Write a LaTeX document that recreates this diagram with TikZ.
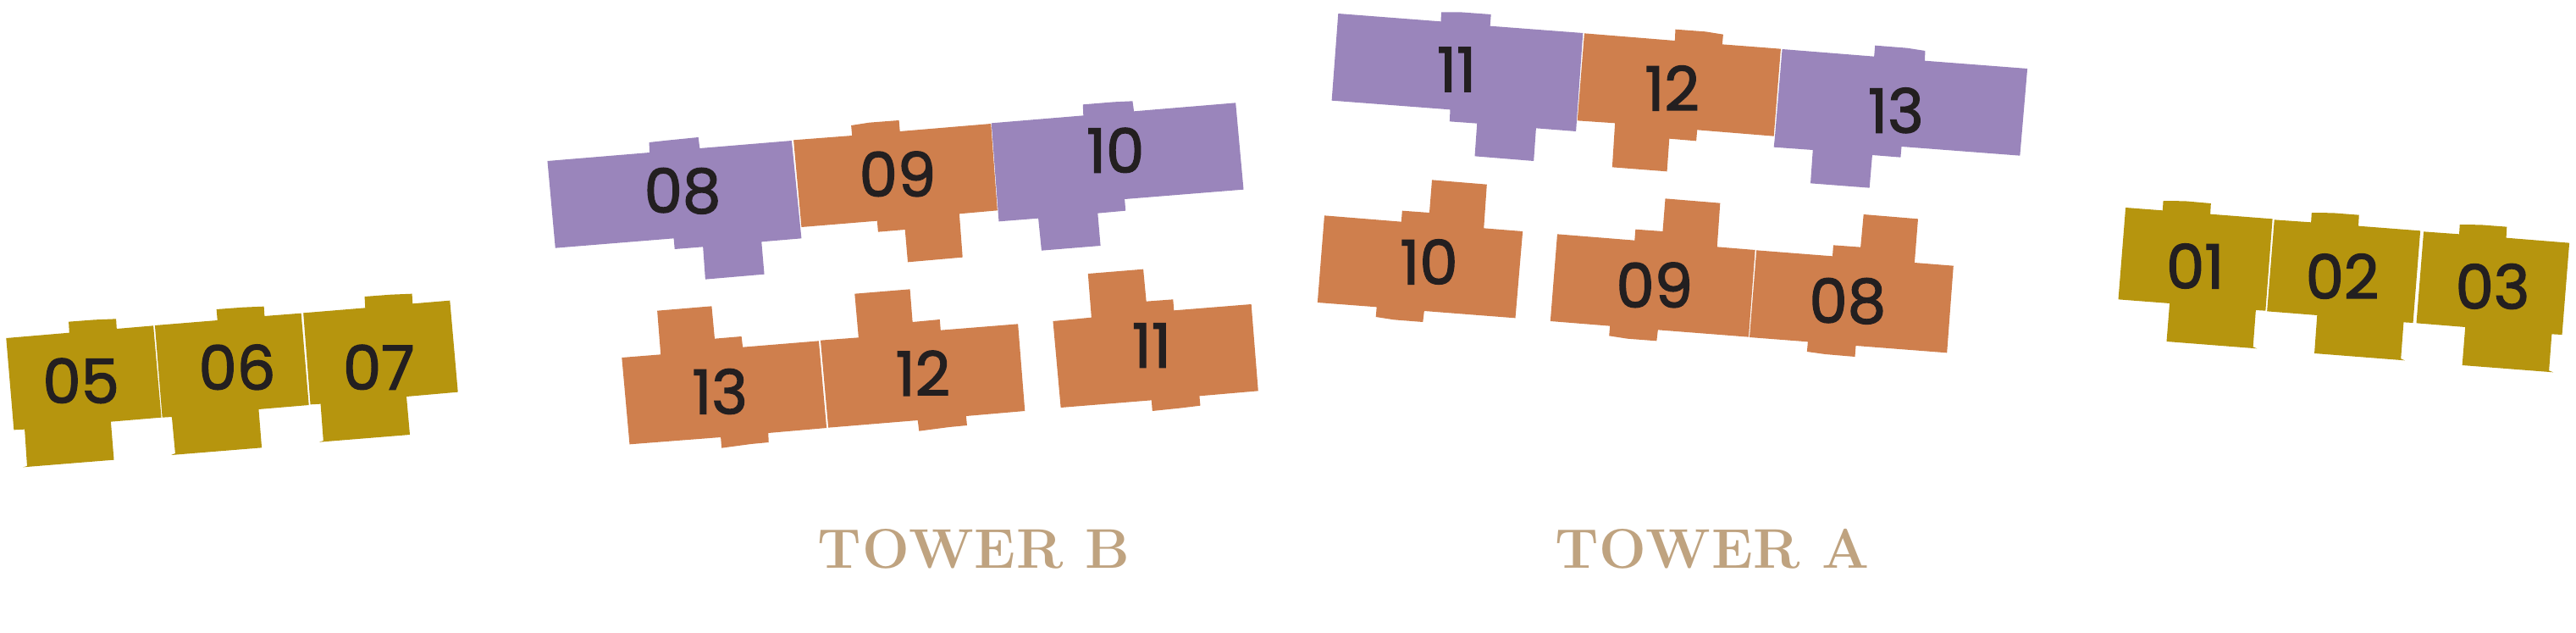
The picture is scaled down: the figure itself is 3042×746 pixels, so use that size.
\documentclass[tikz,border=0pt]{standalone}
\usepackage{fontspec}
\setmainfont{Poppins}
\newfontfamily\numfont{Poppins}[FakeBold=2]
\newfontfamily\towerfont{Latin Modern Roman}[LetterSpace=1.5]
\definecolor{olive}{HTML}{B6950E}
\definecolor{orng}{HTML}{CF7F4D}
\definecolor{purp}{HTML}{9A85BB}
\definecolor{ink}{HTML}{231F20}
\definecolor{tan}{HTML}{BFA380}
\tikzset{
  unit/.style={fill=#1,draw=none},
  num/.style={text=ink,inner sep=0pt,font=\numfont\fontsize{36}{36}\selectfont},
  tower/.style={text=tan,inner sep=0pt,font=\towerfont\bfseries\fontsize{33}{33}\selectfont}
}
\begin{document}
\begin{tikzpicture}[x=0.5pt,y=-0.5pt]
\useasboundingbox (0,0) rectangle (3042,746);
% left wing
\begin{scope}[shift={(0,330)},x=0.5pt/2.75,y=-0.5pt/3]
\fill[unit=olive] (20,207)--(225,188)--(223,149)--(308,142)--(377,139)--(379,174)--(498,163)--(524,488)--(360,503)--(370,638)--(75,664)--(88,660)--(80,530)--(45,532)--cycle;
\fill[unit=olive] (503,162)--(706,144)--(703,105)--(790,98)--(857,95)--(859,129)--(978,119)--(1003,444)--(840,459)--(850,595)--(556,621)--(569,615)--(558,486)--(527,488)--cycle;
\fill[unit=olive] (985,118)--(1186,100)--(1184,60)--(1270,53)--(1338,50)--(1340,85)--(1461,74)--(1487,398)--(1320,414)--(1331,549)--(1037,575)--(1050,570)--(1041,440)--(1008,442)--cycle;
\node[num] (l05) at (263,358) {05};
\node[num] (l06) at (770,310) {06};
\node[num] (l07) at (1230,310) {07};
\end{scope}
% tower B upper
\begin{scope}[shift={(630,100)},x=0.5pt/1.823,y=-0.5pt/3]
\fill[unit=purp] (30,270)--(250,240)--(249,204)--(288,197)--(355,186)--(358,225)--(556,198)--(577,544)--(491,556)--(497,671)--(370,689)--(365,574)--(304,582)--(302,544)--(47,578)--cycle;
\fill[unit=orng] (560,196)--(686,180)--(684,144)--(723,134)--(787,126)--(789,165)--(985,138)--(999,445)--(917,457)--(924,611)--(806,628)--(800,513)--(742,521)--(740,482)--(577,504)--cycle;
\fill[unit=purp] (986,136)--(1184,109)--(1183,70)--(1250,61)--(1290,58)--(1293,94)--(1512,64)--(1529,371)--(1273,405)--(1275,446)--(1215,455)--(1221,570)--(1094,587)--(1087,473)--(1002,484)--cycle;
\node[num] (b08) at (321,376) {08};
\node[num] (b09) at (784,316) {09};
\node[num] (b10) at (1253,232) {10};
\end{scope}
% tower B lower
\begin{scope}[shift={(720,320)},x=0.5pt/1.96,y=-0.5pt/3]
\fill[unit=orng] (28,306)--(118,295)--(110,140)--(236,124)--(243,239)--(305,231)--(308,269)--(484,247)--(502,555)--(367,573)--(368,606)--(327,612)--(259,626)--(257,588)--(46,613)--cycle;
\fill[unit=orng] (488,245)--(576,235)--(567,80)--(695,64)--(701,180)--(764,171)--(766,209)--(945,187)--(961,495)--(825,513)--(827,546)--(786,552)--(716,566)--(713,528)--(506,554)--cycle;
\fill[unit=orng] (1026,177)--(1115,164)--(1107,9)--(1235,-7)--(1242,107)--(1304,100)--(1306,139)--(1485,117)--(1501,424)--(1365,442)--(1367,476)--(1325,484)--(1256,495)--(1254,457)--(1044,483)--cycle;
\node[num] (b13) at (255,426) {13};
\node[num] (b12) at (725,361) {12};
\node[num] (b11) at (1254,263) {11};
\end{scope}
% tower A upper
\begin{scope}[shift={(1560,0)},x=0.5pt/1.823,y=-0.5pt/3]
\fill[unit=purp] (37,48)--(258,76)--(259,43)--(300,43)--(366,51)--(364,92)--(564,117)--(549,465)--(463,454)--(458,570)--(331,553)--(336,437)--(277,430)--(278,388)--(23,356)--cycle;
\fill[unit=orng] (567,118)--(762,144)--(763,104)--(828,112)--(866,122)--(864,157)--(990,173)--(975,482)--(810,460)--(808,499)--(750,491)--(745,607)--(627,592)--(633,436)--(552,427)--cycle;
\fill[unit=purp] (993,174)--(1191,200)--(1193,161)--(1262,170)--(1301,180)--(1300,215)--(1521,243)--(1505,551)--(1250,519)--(1248,557)--(1187,549)--(1181,665)--(1054,649)--(1059,531)--(975,521)--(977,490)--cycle;
\node[num] (a11) at (292,246) {11};
\node[num] (a12) at (756,312) {12};
\node[num] (a13) at (1238,391) {13};
\end{scope}
% tower A lower
\begin{scope}[shift={(1540,200)},x=0.5pt/1.96,y=-0.5pt/3]
\fill[unit=orng] (47,163)--(225,185)--(227,146)--(290,153)--(296,37)--(423,53)--(416,208)--(506,219)--(489,526)--(278,501)--(275,540)--(208,532)--(166,522)--(168,487)--(31,471)--cycle;
\fill[unit=orng] (586,229)--(765,251)--(767,212)--(830,219)--(836,103)--(963,119)--(956,274)--(1044,285)--(1029,593)--(819,568)--(816,607)--(748,599)--(706,589)--(708,554)--(570,537)--cycle;
\fill[unit=orng] (1047,286)--(1223,307)--(1225,268)--(1288,275)--(1295,159)--(1421,175)--(1413,330)--(1503,341)--(1488,649)--(1277,624)--(1275,663)--(1206,654)--(1164,645)--(1166,610)--(1031,594)--cycle;
\node[num] (a10) at (289,327) {10};
\node[num] (a09) at (811,409) {09};
\node[num] (a08) at (1258,466) {08};
\end{scope}
% right wing
\begin{scope}[shift={(2480,220)},x=0.5pt/2.79,y=-0.5pt/3]
\fill[unit=olive] (84,75)--(206,85)--(208,51)--(280,52)--(365,60)--(363,98)--(568,115)--(545,440)--(513,438)--(504,568)--(517,574)--(219,549)--(229,414)--(60,400)--cycle;
\fill[unit=olive] (574,118)--(695,127)--(697,93)--(768,94)--(853,101)--(851,140)--(1055,157)--(1031,483)--(1000,481)--(991,610)--(1004,616)--(706,591)--(715,456)--(550,442)--cycle;
\fill[unit=olive] (1066,160)--(1183,169)--(1185,135)--(1255,136)--(1340,143)--(1338,182)--(1546,200)--(1522,525)--(1488,523)--(1479,652)--(1493,658)--(1193,633)--(1203,498)--(1042,484)--cycle;
\node[num] (r01) at (313,282) {01};
\node[num] (r02) at (798,318) {02};
\node[num] (r03) at (1293,354) {03};
\end{scope}
\node[tower] (towerb) at (1150,648) {TOWER B};
\node[tower] (towera) at (2022,648) {TOWER A};
\end{tikzpicture}
\end{document}
